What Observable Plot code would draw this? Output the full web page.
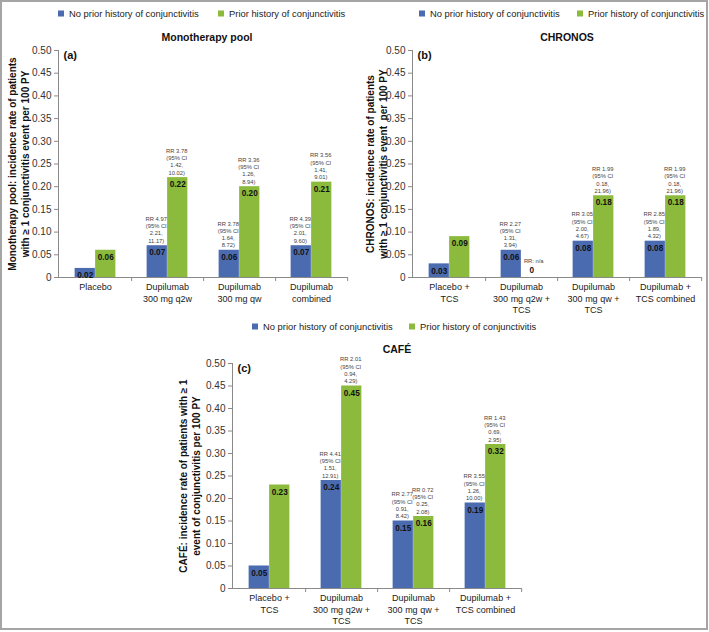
<!DOCTYPE html>
<html><head><meta charset="utf-8">
<script src="https://cdn.jsdelivr.net/npm/d3@7"></script>
<script src="https://cdn.jsdelivr.net/npm/@observablehq/plot@0.6"></script>
<style>
body{margin:0;background:#fff;font-family:"Liberation Sans",Arial,sans-serif;}
#root{position:relative;width:709px;height:632px;overflow:hidden;background:#fff}
#border{position:absolute;left:0;top:0;width:708px;height:630px;box-sizing:border-box;border:2px solid #a5a5a5}
.item{position:absolute;font-size:9.4px;color:#222;white-space:nowrap;display:flex;align-items:center;transform:translateY(-50%)}
.sw{display:inline-block;width:6px;height:6px;margin-right:5px}
.title{position:absolute;font-weight:bold;font-size:10.5px;color:#111;transform:translate(-50%,-50%);white-space:nowrap}
.panel{position:absolute}
</style></head><body><div id="root"><div id="border"></div></div>
<script>
// ---- data ----
const seriesNames = ["No prior history of conjunctivitis", "Prior history of conjunctivitis"];
const seriesColors = ["#4b6bb0", "#8bba3c"];

const catsA = ["Placebo", "Dupilumab\n300 mg q2w", "Dupilumab\n300 mg qw", "Dupilumab\ncombined"];
const noPriorA = [0.02, 0.07, 0.06, 0.07];
const priorA = [0.06, 0.22, 0.20, 0.21];
const rrNoA = [null, "RR 4.97\n(95% CI\n2.21,\n11.17)", "RR 3.78\n(95% CI\n1.64,\n8.72)", "RR 4.39\n(95% CI\n2.01,\n9.60)"];
const rrPriorA = [null, "RR 3.78\n(95% CI\n1.42,\n10.02)", "RR 3.36\n(95% CI\n1.26,\n8.94)", "RR 3.56\n(95% CI\n1.41,\n9.01)"];

const catsB = ["Placebo +\nTCS", "Dupilumab\n300 mg q2w +\nTCS", "Dupilumab\n300 mg qw +\nTCS", "Dupilumab +\nTCS combined"];
const noPriorB = [0.03, 0.06, 0.08, 0.08];
const priorB = [0.09, 0, 0.18, 0.18];
const rrNoB = [null, "RR 2.27\n(95% CI\n1.31,\n3.94)", "RR 3.05\n(95% CI\n2.00,\n4.67)", "RR 2.85\n(95% CI\n1.89,\n4.32)"];
const rrPriorB = [null, "RR: n/a", "RR 1.99\n(95% CI\n0.18,\n21.96)", "RR 1.99\n(95% CI\n0.18,\n21.96)"];

const catsC = ["Placebo +\nTCS", "Dupilumab\n300 mg q2w +\nTCS", "Dupilumab\n300 mg qw +\nTCS", "Dupilumab +\nTCS combined"];
const noPriorC = [0.05, 0.24, 0.15, 0.19];
const priorC = [0.23, 0.45, 0.16, 0.32];
const rrNoC = [null, "RR 4.41\n(95% CI\n1.51,\n12.91)", "RR 2.77\n(95% CI\n0.91,\n8.42)", "RR 3.55\n(95% CI\n1.26,\n10.00)"];
const rrPriorC = [null, "RR 2.01\n(95% CI\n0.94,\n4.29)", "RR 0.72\n(95% CI\n0.25,\n2.08)", "RR 1.43\n(95% CI\n0.69,\n2.95)"];

const titles = ["Monotherapy pool", "CHRONOS", "CAFÉ"];
const tags = ["(a)", "(b)", "(c)"];
const yTitles = [
  "Monotherapy pool: incidence rate of patients\nwith \u2265 1 conjunctivitis event per 100 PY",
  "CHRONOS: incidence rate of patients\nwith \u2265 1 conjunctivitis event  per 100 PY",
  "CAF\u00c9: incidence rate of patients with \u2265 1\nevent of conjunctivitis per 100 PY"
];

// ---- layout ----
const root = document.getElementById("root");
function addLegend(x1, x2, y) {
  [x1, x2].forEach((x, i) => {
    const d = document.createElement("div");
    d.className = "item";
    d.style.left = x + "px"; d.style.top = y + "px";
    d.innerHTML = `<span class="sw" style="background:${seriesColors[i]}"></span>`;
    d.appendChild(document.createTextNode(seriesNames[i]));
    root.appendChild(d);
  });
}
function addTitle(t, x, y) {
  const d = document.createElement("div");
  d.className = "title"; d.textContent = t;
  d.style.left = x + "px"; d.style.top = y + "px";
  root.appendChild(d);
}

function panel(o) {
  const rows = o.cats.flatMap((c, i) => [
    {cat: c, s: 0, v: o.noPrior[i], rr: o.rrNo[i]},
    {cat: c, s: 1, v: o.prior[i], rr: o.rrPrior[i]}
  ]);
  const bw = (o.width - o.mL - o.mR) / o.cats.length;
  const barW = 20.5;
  const bars = [], labels = [];
  [0, 1].forEach(s => {
    const r = rows.filter(d => d.s === s);
    const off = s === 0 ? -barW / 2 : barW / 2;
    bars.push(Plot.barY(r, {
      x: "cat", y: "v", fill: seriesColors[s],
      insetLeft: s === 0 ? bw / 2 - barW : bw / 2,
      insetRight: s === 0 ? bw / 2 : bw / 2 - barW
    }));
    labels.push(Plot.text(r.filter(d => d.v > 0), {
      x: "cat", y: "v", dx: off, dy: 7, text: d => d.v.toFixed(2),
      fontWeight: "bold", fontSize: 8.2, fill: "#111"
    }));
    labels.push(Plot.text(r.filter(d => d.v === 0), {
      x: "cat", y: "v", dx: off, dy: -7, text: d => String(d.v),
      fontWeight: "bold", fontSize: 8.2, fill: "#111"
    }));
    labels.push(Plot.text(r.filter(d => d.rr && d.v > 0), {
      x: "cat", y: "v", dx: off - 1, dy: -3, text: "rr", lineAnchor: "bottom",
      fontSize: 5.8, lineHeight: 1.25, fill: "#444"
    }));
    labels.push(Plot.text(r.filter(d => d.rr && d.v === 0), {
      x: "cat", y: "v", dx: off + 2, dy: -16, text: "rr", lineAnchor: "middle",
      fontSize: 5.8, fill: "#444"
    }));
  });
  const svg = Plot.plot({
    width: o.width, height: o.height,
    marginLeft: o.mL, marginTop: o.mT, marginRight: o.mR, marginBottom: o.mB,
    style: {fontFamily: "'Liberation Sans', Arial, sans-serif", background: "transparent", overflow: "visible", color: "#222"},
    x: {domain: o.cats, padding: 0},
    y: {domain: [0, 0.5]},
    marks: [
      ...bars,
      Plot.frame({anchor: "left", stroke: "#8a8a8a"}),
      Plot.ruleY([0], {stroke: "#8a8a8a"}),
      Plot.axisY({ticks: 10, tickSize: 4, tickPadding: 3, stroke: "#8a8a8a", fill: "#333", fontSize: 10,
        tickFormat: d => d === 0 ? "0" : d3.format(".2f")(d), label: null}),
      Plot.axisX({tickSize: 0, tickPadding: 4, fontSize: 9, lineHeight: 1.3, fill: "#222", label: null}),
      Plot.ruleX(o.cats, {x: d => d, dx: bw / 2, y1: 0, y2: 0, insetBottom: -4, stroke: "#8a8a8a"}),
      ...labels,
      Plot.text([o.yTitle], {frameAnchor: "left", textAnchor: "middle", rotate: -90, dx: o.titleDx, text: d => d,
        fontWeight: "bold", fontSize: 10, lineHeight: 1.3, fill: "#111"}),
      Plot.text([o.tag], {frameAnchor: "top-left", dx: 5, dy: 5, text: d => d, textAnchor: "start",
        lineAnchor: "middle", fontWeight: "bold", fontSize: 11, fill: "#111"})
    ]
  });
  svg.classList.add("panel");
  svg.style.left = o.left + "px";
  svg.style.top = o.top + "px";
  root.appendChild(svg);
}

addLegend(58, 218, 13);
addLegend(419, 577, 13);
addLegend(252, 409, 326);
addTitle(titles[0], 207, 37);
addTitle(titles[1], 567, 37);
addTitle(titles[2], 397, 349);

panel({cats: catsA, noPrior: noPriorA, prior: priorA, rrNo: rrNoA, rrPrior: rrPriorA,
  yTitle: yTitles[0], tag: tags[0], left: 0, top: 0, width: 360, height: 315,
  mL: 58, mT: 50, mR: 13, mB: 38, titleDx: -40});
panel({cats: catsB, noPrior: noPriorB, prior: priorB, rrNo: rrNoB, rrPrior: rrPriorB,
  yTitle: yTitles[1], tag: tags[1], left: 360, top: 0, width: 349, height: 315,
  mL: 52, mT: 50, mR: 8, mB: 38, titleDx: -36});
panel({cats: catsC, noPrior: noPriorC, prior: priorC, rrNo: rrNoC, rrPrior: rrPriorC,
  yTitle: yTitles[2], tag: tags[2], left: 150, top: 340, width: 400, height: 292,
  mL: 82, mT: 23, mR: 29, mB: 44, titleDx: -43.5});
</script></body></html>
